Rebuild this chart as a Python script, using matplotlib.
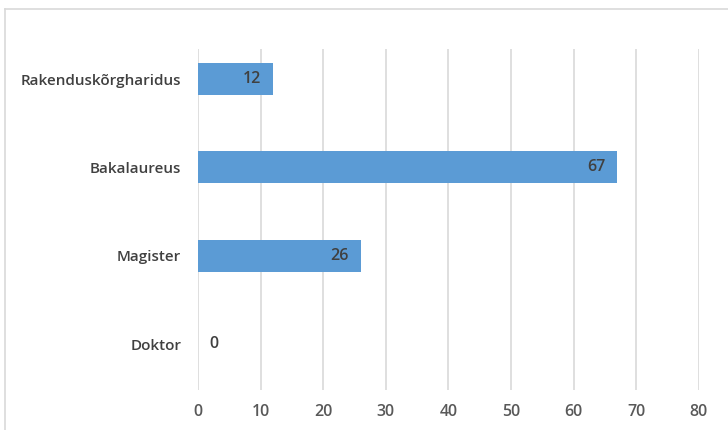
import matplotlib.pyplot as plt
from matplotlib.lines import Line2D

# Haridustase ja vastajate arv
categories = ["Rakenduskõrgharidus", "Bakalaureus", "Magister", "Doktor"]
values = [12, 67, 26, 0]
x_ticks = [0, 10, 20, 30, 40, 50, 60, 70, 80]

plt.rcParams['font.family'] = ['Open Sans', 'DejaVu Sans']
plt.rcParams['font.weight'] = 'semibold'

fig = plt.figure(figsize=(7.28, 4.30), dpi=100)
ax = fig.add_axes([0.272, 0.093, 0.688, 0.793])

pos = list(range(len(categories)))
bars = ax.barh(pos, values, height=0.36, color="#5B9BD5", zorder=3)

ax.set_xlim(0, 80)
ax.set_ylim(3.52, -0.34)
ax.set_xticks(x_ticks)
ax.set_xticklabels([str(t) for t in x_ticks], fontsize=11.5, color="#595959")
ax.set_yticks(pos)
ax.set_yticklabels(categories, fontsize=11, color="#404040")
ax.tick_params(axis='both', length=0)
ax.tick_params(axis='y', pad=12)
ax.tick_params(axis='x', pad=10)
ax.grid(axis='x', color="#d9d9d9", linewidth=1.2, zorder=0)
for s in ax.spines.values():
    s.set_visible(False)

# väärtused ribade otstes
for p, v in zip(pos, values):
    if v > 0:
        ax.text(v - 1.9, p, str(v), ha='right', va='center', fontsize=11.5, color="#404040", zorder=4)
    else:
        ax.text(v + 1.8, p, str(v), ha='left', va='center', fontsize=11.5, color="#404040", zorder=4)

# diagrammi raam
fx = 5 / 728
fy = 1 - 9 / 430
fig.add_artist(Line2D([fx, fx], [0, fy], color="#d9d9d9", linewidth=1.2, transform=fig.transFigure))
fig.add_artist(Line2D([fx, 1], [fy, fy], color="#d9d9d9", linewidth=1.2, transform=fig.transFigure))

fig.savefig("out.png", dpi=100, facecolor="white")
